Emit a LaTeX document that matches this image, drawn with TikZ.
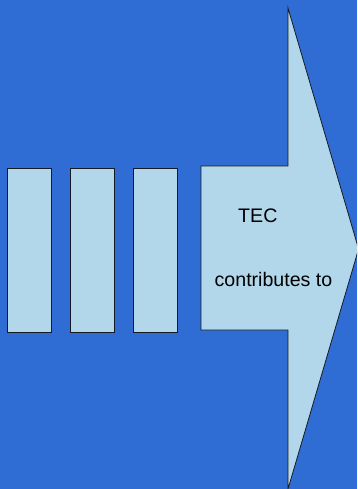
\documentclass[tikz,border=0pt]{standalone}
\usepackage{fontspec}
\setmainfont{Liberation Sans}
\definecolor{bgblue}{RGB}{47,108,211}
\definecolor{boxfill}{RGB}{179,215,234}
\definecolor{edge}{RGB}{20,25,35}
\begin{document}
\begin{tikzpicture}[x=1pt,y=-1pt,
  bar/.style={draw=edge,fill=boxfill,line width=0.8pt,minimum width=44pt,minimum height=164pt,inner sep=0pt,outer sep=0pt},
  lbl/.style={anchor=base,inner sep=0pt,font=\fontsize{19.6}{22}\selectfont,text=black}]
\useasboundingbox (0,0) rectangle (357,489);
\fill[bgblue] (0,0) rectangle (357,489);
\clip (0,0) rectangle (357,489);
\node[bar] (b1) at (29,250.3) {};
\node[bar] (b2) at (92.2,250.3) {};
\node[bar] (b3) at (155.5,250.3) {};
\draw[draw=edge,fill=boxfill,line width=0.8pt,line join=miter]
  (201,166) -- (288,166) -- (288,8) -- (358.6,249) -- (288,489) -- (288,330) -- (201,330) -- cycle;
\node[lbl] (tec) at (257.8,222.3) {TEC};
\node[lbl] (contrib) at (273.5,286.7) {contributes to};
\end{tikzpicture}
\end{document}
